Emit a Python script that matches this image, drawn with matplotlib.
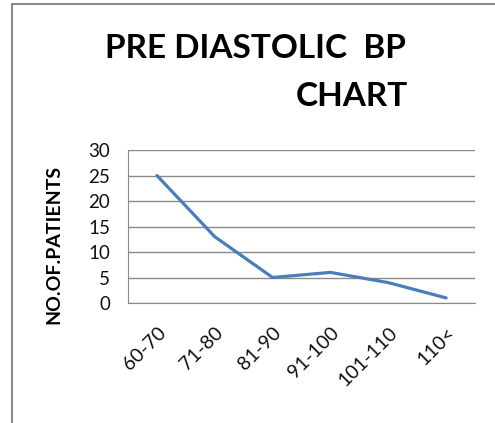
import matplotlib.pyplot as plt
from matplotlib.patches import Rectangle

categories = ["60-70", "71-80", "81-90", "91-100", "101-110", "110<"]
patients = [25, 13, 5, 6, 4, 1]
y_ticks = [0, 5, 10, 15, 20, 25, 30]

plt.rcParams["font.family"] = ["Lato", "DejaVu Sans"]

W, H = 495, 423
fig = plt.figure(figsize=(W / 100, H / 100), dpi=100)

# chart border (right and bottom edges run off the picture)
fig.patches.append(Rectangle((12 / W, -0.1), 1.2, 1 - 4 / H + 0.1,
                             transform=fig.transFigure, fill=False,
                             edgecolor="#8c8c8c", linewidth=1.5))

ax = fig.add_axes([128 / W, 1 - 303 / H, (475 - 128) / W, (303 - 150) / H])
x = range(len(categories))
ax.plot(x, patients, color="#4a7ebb", linewidth=2.3, solid_capstyle="round")

ax.set_xlim(-0.5, len(categories) - 0.5)
ax.set_ylim(0, 30)
ax.set_yticks(y_ticks)
ax.yaxis.grid(True, color="#8a8a8a", linewidth=1)
ax.set_axisbelow(True)
for s in ["top", "right"]:
    ax.spines[s].set_visible(False)
ax.spines["left"].set_color("#8a8a8a")
ax.spines["bottom"].set_color("#8a8a8a")
ax.tick_params(axis="both", length=0, colors="#111111")
ax.tick_params(axis="y", pad=13, labelsize=13.5)
ax.set_xticks(list(x))
ax.set_xticklabels(categories, rotation=45, ha="right", rotation_mode="anchor")
ax.tick_params(axis="x", pad=15, labelsize=14)

ax.set_ylabel("NO.OF.PATIENTS", fontsize=14, fontweight="bold")
ax.yaxis.set_label_coords(-0.19, 0.38)

fig.text(255 / W, 1 - 48 / H, "PRE DIASTOLIC  BP", ha="center", va="center",
         fontsize=24, fontweight="bold")
fig.text(408 / W, 1 - 96 / H, "CHART", ha="right", va="center",
         fontsize=24, fontweight="bold")

fig.savefig("out.png", dpi=100)
